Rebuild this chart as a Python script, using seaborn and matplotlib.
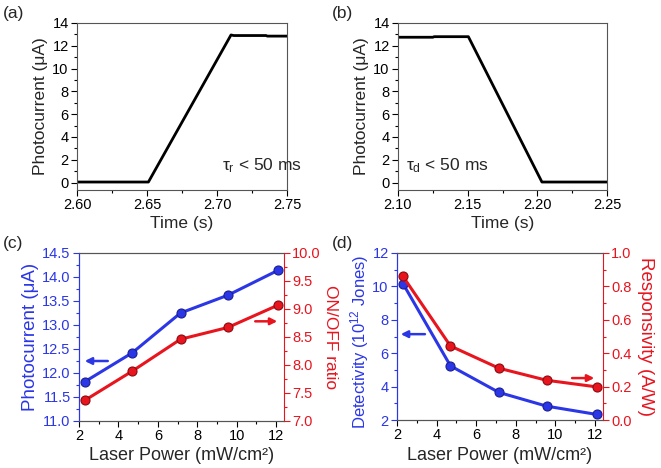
import matplotlib
matplotlib.use("Agg")
import matplotlib.pyplot as plt
import seaborn as sns
import pandas as pd
import numpy as np
from matplotlib.ticker import MultipleLocator, FormatStrFormatter

sns.set_style("ticks")
plt.rcParams['font.family'] = ['Liberation Sans', 'DejaVu Sans']
plt.rcParams['mathtext.fontset'] = 'custom'
plt.rcParams['mathtext.rm'] = 'Liberation Sans'
plt.rcParams['mathtext.it'] = 'Liberation Sans'

# ---- data ----
rise_time = [2.60, 2.651, 2.710, 2.712, 2.735, 2.736, 2.75]
rise_current = [0.05, 0.05, 12.95, 12.9, 12.9, 12.85, 12.85]

decay_time = [2.10, 2.125, 2.126, 2.1505, 2.2033, 2.25]
decay_current = [12.75, 12.75, 12.8, 12.8, 0.05, 0.05]

laser_power = [2.3, 4.7, 7.15, 9.55, 12.1]
photocurrent = [11.82, 12.42, 13.25, 13.62, 14.14]
on_off_ratio = [7.37, 7.89, 8.46, 8.67, 9.07]
detectivity = [10.17, 5.24, 3.65, 2.83, 2.33]
responsivity = [0.86, 0.443, 0.31, 0.238, 0.198]

BLUE = "#2b36e6"
RED = "#e8141e"
GRAY = "#555555"

W, H = 661, 468
fig = plt.figure(figsize=(W/100, H/100), dpi=100)

def add_ax(l, r, t, b):
    return fig.add_axes([l/W, 1-b/H, (r-l)/W, (b-t)/H])

def style(ax, tcolor='black'):
    ax.tick_params(which='both', direction='out', labelsize=10.5, colors=tcolor, pad=2)
    ax.tick_params(which='major', length=4, width=0.8)
    ax.tick_params(which='minor', length=2.5, width=0.8)
    for s in ax.spines.values():
        s.set_color(GRAY)
        s.set_linewidth(0.8)

# (a)
axa = add_ax(77, 287, 23, 190)
sns.lineplot(x=rise_time, y=rise_current, ax=axa, color='black', lw=2.0, sort=False)
axa.set_xlim(2.60, 2.75)
axa.set_ylim(-0.65, 14)
axa.xaxis.set_major_locator(MultipleLocator(0.05))
axa.xaxis.set_minor_locator(MultipleLocator(0.025))
axa.xaxis.set_major_formatter(FormatStrFormatter('%.2f'))
axa.yaxis.set_major_locator(MultipleLocator(2))
axa.yaxis.set_minor_locator(MultipleLocator(1))
style(axa)
axa.set_xlabel("Time (s)", fontsize=12.5, labelpad=3)
axa.set_ylabel("Photocurrent (μA)", fontsize=12.5, labelpad=3)
axa.text(0.69, 0.12, r"$\tau_{\rm r}$ < 50 ms", transform=axa.transAxes, fontsize=12.5)
fig.text(3/W, 1-18/H, "(a)", fontsize=12.5)

# (b)
axb = add_ax(398, 607, 23, 190)
sns.lineplot(x=decay_time, y=decay_current, ax=axb, color='black', lw=2.0, sort=False)
axb.set_xlim(2.10, 2.25)
axb.set_ylim(-0.65, 14)
axb.xaxis.set_major_locator(MultipleLocator(0.05))
axb.xaxis.set_minor_locator(MultipleLocator(0.025))
axb.xaxis.set_major_formatter(FormatStrFormatter('%.2f'))
axb.yaxis.set_major_locator(MultipleLocator(2))
axb.yaxis.set_minor_locator(MultipleLocator(1))
style(axb)
axb.set_xlabel("Time (s)", fontsize=12.5, labelpad=3)
axb.set_ylabel("Photocurrent (μA)", fontsize=12.5, labelpad=3)
axb.text(0.04, 0.12, r"$\tau_{\rm d}$ < 50 ms", transform=axb.transAxes, fontsize=12.5)
fig.text(332/W, 1-18/H, "(b)", fontsize=12.5)

mk = dict(marker='o', markersize=6.5, markeredgewidth=0.8, lw=2.2)

# (c)
axc = add_ax(79, 284, 253, 421)
axc2 = axc.twinx()
sns.lineplot(x=laser_power, y=photocurrent, ax=axc, color=BLUE, markeredgecolor='#1a1f90', **mk)
sns.lineplot(x=laser_power, y=on_off_ratio, ax=axc2, color=RED, markeredgecolor='#8a0a10', **mk)
axc.set_xlim(2, 12.4)
axc.set_ylim(11, 14.5)
axc2.set_ylim(7, 10)
axc.xaxis.set_major_locator(MultipleLocator(2))
axc.xaxis.set_minor_locator(MultipleLocator(1))
axc.yaxis.set_major_locator(MultipleLocator(0.5))
axc.yaxis.set_minor_locator(MultipleLocator(0.25))
axc.yaxis.set_major_formatter(FormatStrFormatter('%.1f'))
axc2.yaxis.set_major_locator(MultipleLocator(0.5))
axc2.yaxis.set_minor_locator(MultipleLocator(0.25))
axc2.yaxis.set_major_formatter(FormatStrFormatter('%.1f'))
style(axc)
style(axc2)
axc.tick_params(axis='y', which='both', colors=BLUE)
axc.tick_params(axis='x', which='both', colors='black')
axc2.tick_params(axis='y', which='both', colors=RED)
axc.spines['left'].set_color(BLUE)
axc2.spines['left'].set_color(BLUE)
axc2.spines['right'].set_color(RED)
axc.spines['right'].set_visible(False)
axc.set_xlabel("Laser Power (mW/cm²)", fontsize=13, labelpad=3)
axc.set_ylabel("Photocurrent (μA)", fontsize=13.5, color=BLUE, labelpad=2)
axc2.set_ylabel("ON/OFF ratio", fontsize=12.5, color=RED, rotation=270, labelpad=12)
axc.annotate("", xy=(2.15, 12.25), xytext=(3.6, 12.25),
             arrowprops=dict(arrowstyle='-|>', color=BLUE, lw=1.8, mutation_scale=10))
axc2.annotate("", xy=(12.2, 8.78), xytext=(10.8, 8.78),
              arrowprops=dict(arrowstyle='-|>', color=RED, lw=1.8, mutation_scale=10))
fig.text(3/W, 1-248/H, "(c)", fontsize=12.5)

# (d)
axd = add_ax(397, 603, 253, 420)
axd2 = axd.twinx()
sns.lineplot(x=laser_power, y=detectivity, ax=axd, color=BLUE, markeredgecolor='#1a1f90', **mk)
sns.lineplot(x=laser_power, y=responsivity, ax=axd2, color=RED, markeredgecolor='#8a0a10', **mk)
axd.set_xlim(2, 12.4)
axd.set_ylim(2, 12)
axd2.set_ylim(0, 1.0)
axd.xaxis.set_major_locator(MultipleLocator(2))
axd.xaxis.set_minor_locator(MultipleLocator(1))
axd.yaxis.set_major_locator(MultipleLocator(2))
axd.yaxis.set_minor_locator(MultipleLocator(1))
axd2.yaxis.set_major_locator(MultipleLocator(0.2))
axd2.yaxis.set_minor_locator(MultipleLocator(0.1))
axd2.yaxis.set_major_formatter(FormatStrFormatter('%.1f'))
style(axd)
style(axd2)
axd.tick_params(axis='y', which='both', colors=BLUE)
axd.tick_params(axis='x', which='both', colors='black')
axd2.tick_params(axis='y', which='both', colors=RED)
axd.spines['left'].set_color(BLUE)
axd2.spines['left'].set_color(BLUE)
axd2.spines['right'].set_color(RED)
axd.spines['right'].set_visible(False)
axd.set_xlabel("Laser Power (mW/cm²)", fontsize=13, labelpad=3)
axd.set_ylabel("Detectivity (10$^{12}$ Jones)", fontsize=12, color=BLUE, labelpad=2)
axd.yaxis.set_label_coords(-0.125, 0.47)
axd2.set_ylabel("Responsivity (A/W)", fontsize=13.5, color=RED, rotation=270, labelpad=16)
axd.annotate("", xy=(2.05, 7.14), xytext=(3.55, 7.14),
             arrowprops=dict(arrowstyle='-|>', color=BLUE, lw=1.8, mutation_scale=10))
axd2.annotate("", xy=(12.1, 0.251), xytext=(10.7, 0.251),
              arrowprops=dict(arrowstyle='-|>', color=RED, lw=1.8, mutation_scale=10))
fig.text(332/W, 1-248/H, "(d)", fontsize=12.5)

fig.savefig("out.png", dpi=100)
